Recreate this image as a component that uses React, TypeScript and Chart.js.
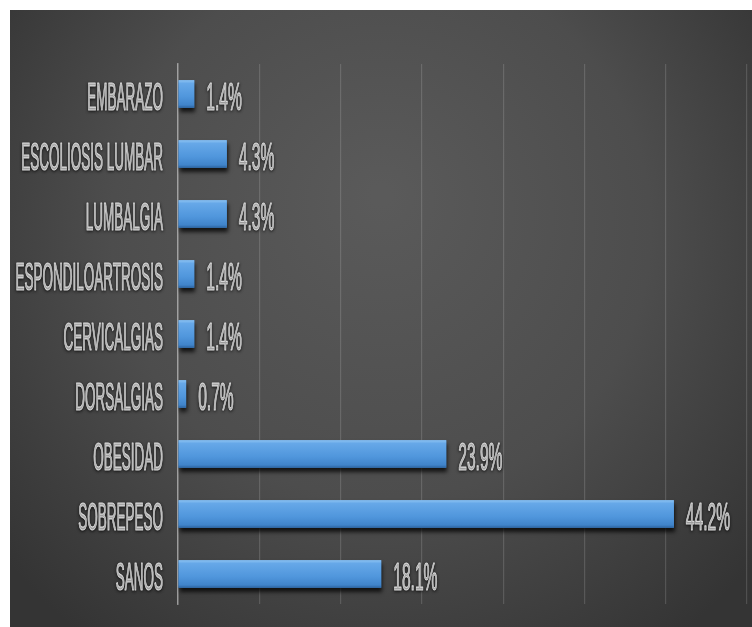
import React, { useEffect, useRef } from "react";
import { Chart, registerables } from "chart.js";

Chart.register(...registerables);

const CATEGORIES = [
  "EMBARAZO",
  "ESCOLIOSIS LUMBAR",
  "LUMBALGIA",
  "ESPONDILOARTROSIS",
  "CERVICALGIAS",
  "DORSALGIAS",
  "OBESIDAD",
  "SOBREPESO",
  "SANOS",
];
// counts (out of 138); grid every 10
const COUNTS = [2, 6, 6, 2, 2, 1, 33, 61, 25];
const PERCENT_LABELS = ["1.4%", "4.3%", "4.3%", "1.4%", "1.4%", "0.7%", "23.9%", "44.2%", "18.1%"];
const X_MIN = 0;
const X_MAX = 70;
const X_STEP = 10;

const FONT = "Liberation Sans, Arial, sans-serif";

const backgroundPlugin = {
  id: "bgPanel",
  beforeDraw(chart: any) {
    const { ctx, width, height } = chart;
    ctx.save();
    const g = ctx.createRadialGradient(width * 0.5, height * 0.3, 10, width * 0.5, height * 0.4, width * 0.65);
    g.addColorStop(0, "#5a5a5a");
    g.addColorStop(0.55, "#4d4d4d");
    g.addColorStop(1, "#343434");
    ctx.fillStyle = g;
    ctx.fillRect(0, 0, width, height);
    ctx.restore();
  },
};

const shadowPlugin = {
  id: "barShadow",
  beforeDatasetsDraw(chart: any) {
    const ctx = chart.ctx;
    ctx.save();
    ctx.shadowColor = "rgba(0,0,0,0.75)";
    ctx.shadowBlur = 4;
    ctx.shadowOffsetY = 4;
    ctx.shadowOffsetX = 1;
  },
  afterDatasetsDraw(chart: any) {
    const ctx = chart.ctx;
    ctx.restore();
    const meta = chart.getDatasetMeta(0);
    ctx.save();
    meta.data.forEach((el: any) => {
      const top = el.y - el.height / 2;
      const g = ctx.createLinearGradient(0, top, 0, top + el.height);
      g.addColorStop(0, "#8cc2f2");
      g.addColorStop(0.12, "#66a8e8");
      g.addColorStop(0.6, "#5096dc");
      g.addColorStop(0.9, "#4084ca");
      g.addColorStop(1, "#2b629e");
      ctx.fillStyle = g;
      ctx.fillRect(el.base, top, el.x - el.base, el.height);
    });
    ctx.restore();
  },
};

const labelsPlugin = {
  id: "condensedLabels",
  afterDraw(chart: any) {
    const { ctx, chartArea } = chart;
    const yScale = chart.scales.y;
    const meta = chart.getDatasetMeta(0);
    ctx.save();
    ctx.fillStyle = "#dadada";
    ctx.strokeStyle = "#dadada";
    ctx.lineWidth = 1.2;
    ctx.lineJoin = "round";
    ctx.shadowColor = "rgba(0,0,0,0.7)";
    ctx.shadowBlur = 3;
    ctx.shadowOffsetY = 1;
    ctx.textBaseline = "alphabetic";
    ctx.font = `38px ${FONT}`;
    CATEGORIES.forEach((label, i) => {
      const y = yScale.getPixelForValue(i);
      const xRight = chartArea.left - 15;
      ctx.save();
      ctx.translate(xRight, y + 16);
      ctx.scale(0.355, 1);
      ctx.textAlign = "right";
      ctx.fillText(label, 0, 0);
      ctx.strokeText(label, 0, 0);
      ctx.restore();
    });
    ctx.font = `39px ${FONT}`;
    meta.data.forEach((el: any, i: number) => {
      ctx.save();
      ctx.translate(el.x + 12, el.y + 16);
      ctx.scale(0.4, 1);
      ctx.textAlign = "left";
      ctx.fillText(PERCENT_LABELS[i], 0, 0);
      ctx.strokeText(PERCENT_LABELS[i], 0, 0);
      ctx.restore();
    });
    ctx.restore();
  },
};

export default function App() {
  const ref = useRef<HTMLCanvasElement>(null);
  useEffect(() => {
    if (!ref.current) return;
    const chart = new Chart(ref.current, {
      type: "bar",
      data: {
        labels: CATEGORIES,
        datasets: [
          {
            data: COUNTS,
            backgroundColor: "#5096dc",
            borderWidth: 0,
            barPercentage: 0.92,
            categoryPercentage: 0.5,
          },
        ],
      },
      options: {
        indexAxis: "y",
        animation: false,
        responsive: true,
        maintainAspectRatio: false,
        layout: { padding: { left: 168, top: 54, right: 5, bottom: 23 } },
        plugins: { legend: { display: false }, tooltip: { enabled: false } },
        scales: {
          x: {
            min: X_MIN,
            max: X_MAX,
            ticks: { display: false, stepSize: X_STEP },
            grid: { display: true, color: "rgba(255,255,255,0.14)", lineWidth: 1.2, drawTicks: false },
            border: { display: false },
            afterFit: (s: any) => {
              s.height = 0;
            },
          },
          y: {
            ticks: { display: false },
            grid: { display: false, drawTicks: false },
            border: { display: true, color: "rgba(200,200,200,0.6)", width: 1.5 },
            afterFit: (s: any) => {
              s.width = 0;
            },
          },
        },
      } as any,
      plugins: [backgroundPlugin, shadowPlugin, labelsPlugin],
    });
    return () => chart.destroy();
  }, []);
  return (
    <div style={{ position: "fixed", left: 0, top: 0, width: 752, height: 627, background: "#fff" }}>
      <div style={{ position: "absolute", left: 10, top: 10, width: 742, height: 617 }}>
        <canvas ref={ref} />
      </div>
    </div>
  );
}
